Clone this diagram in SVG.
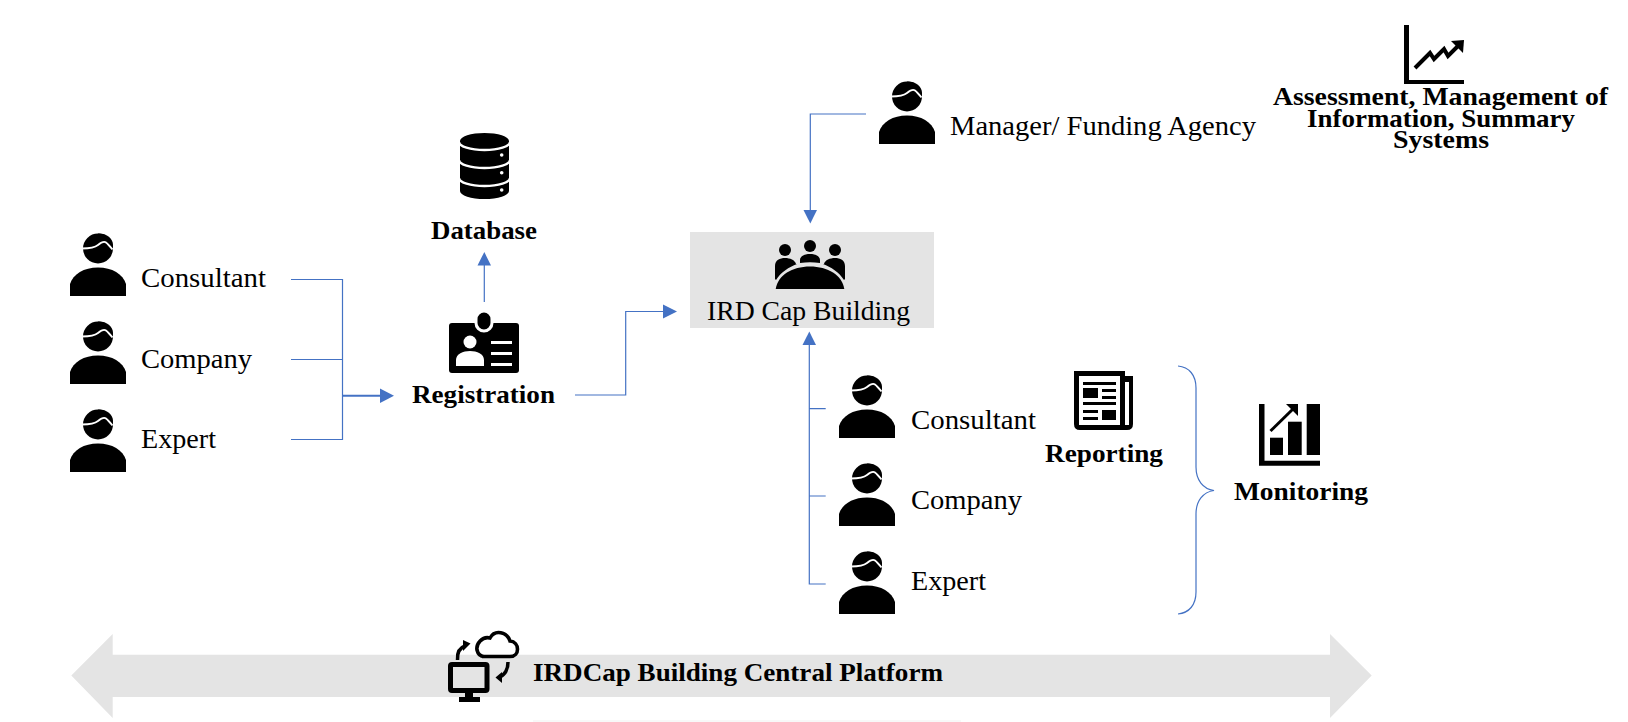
<svg xmlns="http://www.w3.org/2000/svg" width="1628" height="722" viewBox="0 0 1628 722">
<style>
text{font-family:"Liberation Serif","Times New Roman",serif;font-size:27px;fill:#000}
.b{font-weight:700;font-size:26px}
.c{fill:none;stroke:#4472C4;stroke-width:1.2}
.h{fill:#4472C4;stroke:none}
.w{fill:none;stroke:#fff}
.k{fill:#000}
.g{fill:#E4E4E4}
</style>
<defs>
<symbol id="person" width="56" height="63" viewBox="0 0 56 63" overflow="visible">
<circle cx="28" cy="15.500" r="15"/>
<path d="M28 0.500C36 0 43 5 43 12V17L32 8Z"/>
<path d="M12 15.500C20 15.500 25 14.500 28 12C31 9.500 34 8 36 9.500C38 11 40 13.500 42.500 16.500" fill="none" stroke="#fff" stroke-width="1.800"/>
<path d="M0 63V51C3 41 14 34.500 28 34.500C42 34.500 53 41 56 51V63Z"/>
</symbol>
</defs>
<g id="connectors">
<path class="c" d="M291 279.500H342.500V439.500H291M291 359.500H342.500"/>
<path class="c" style="stroke-width:2" d="M342.500 395.700H381"/>
<path class="h" d="M394 395.700L380 388.500V403Z"/>
<path class="c" d="M484.300 302V264"/>
<path class="h" d="M484.300 252L477.500 265.500H491Z"/>
<path class="c" d="M575 395H625.700V311.500H664"/>
<path class="h" d="M677 311.500L663 304.500V318.500Z"/>
<path class="c" d="M866 114H810.300V211"/>
<path class="h" d="M810.300 223.500L803.500 210H817Z"/>
<path class="c" d="M809.300 344V584H825.700M809.300 408.700H825.700M809.300 496H825.700"/>
<path class="h" d="M809.300 331.500L802.500 345H816Z"/>
<path class="c" d="M1178 366C1189 367 1196 375 1196 388V467C1196 480 1203 489 1214 490.500C1203 492 1196 501 1196 514V592C1196 605 1189 613 1178 614"/>
</g>
<g id="platform">
<path class="g" d="M71.300 675.500L112.700 634V654.700H1330V634L1371.700 675.500L1330 718V697H112.700V718Z"/>
<rect x="533" y="720.500" width="428" height="1" fill="#f2f2f2"/>
<text class="b" x="533" y="681" textLength="410" lengthAdjust="spacingAndGlyphs">IRDCap Building Central Platform</text>
<g id="platform-icon">
<rect x="450.500" y="664.500" width="36.500" height="26" rx="1.500" fill="none" stroke="#000" stroke-width="5"/>
<rect x="465" y="692" width="8" height="6"/><rect x="459" y="697" width="21" height="5"/>
<path d="M482 656.500H510C520 656.500 520 642 510 641C507 632 495 629 490 638C482 636 476 644 477 650C478 654 480 656.500 484 656.500" fill="none" stroke="#000" stroke-width="3.600"/>
<path d="M457.500 660C457 653 459 648 465 646" fill="none" stroke="#000" stroke-width="3.500"/><path class="k" d="M470.500 643.500L463 640V651Z"/>
<path d="M508 662C508 669 505 675 500 676.500" fill="none" stroke="#000" stroke-width="3.500"/><path class="k" d="M495.500 677.500L502 672V683Z"/>
</g>
</g>
<g id="consultant-left"><use href="#person" x="70" y="233"/><text x="141" y="287" textLength="125" lengthAdjust="spacingAndGlyphs">Consultant</text></g>
<g id="company-left"><use href="#person" x="70" y="321"/><text x="141" y="367.500" textLength="111" lengthAdjust="spacingAndGlyphs">Company</text></g>
<g id="expert-left"><use href="#person" x="70" y="409"/><text x="141" y="447.500" textLength="75" lengthAdjust="spacingAndGlyphs">Expert</text></g>
<g id="database">
<path class="k" d="M460 141A24.500 8 0 0 1 509 141V191A24.500 8 0 0 1 460 191Z"/>
<path class="w" stroke-width="2.500" d="M459 142A25.500 8 0 0 0 510 142M459 160A25.500 8 0 0 0 510 160M459 178A25.500 8 0 0 0 510 178"/>
<circle cx="501.700" cy="155" r="1.800" fill="#fff"/><circle cx="501.700" cy="172.700" r="1.800" fill="#fff"/><circle cx="501.700" cy="190" r="1.800" fill="#fff"/>
<text class="b" x="431" y="239" textLength="106" lengthAdjust="spacingAndGlyphs">Database</text>
</g>
<g id="registration">
<rect x="449" y="323" width="70" height="50" rx="3"/>
<rect x="476" y="311" width="16" height="20" rx="8" fill="#000" stroke="#fff" stroke-width="3"/>
<circle cx="470" cy="342" r="6.500" fill="#fff"/>
<path d="M456 366V360C456 354 463 351 470 351C477 351 484 354 484 360V366Z" fill="#fff"/>
<path d="M491 342.500H512M491 353.500H512M491 364.500H512" stroke="#fff" stroke-width="3"/>
<text class="b" x="412" y="403" textLength="143" lengthAdjust="spacingAndGlyphs">Registration</text>
</g>
<g id="ird-cap-building">
<rect class="g" x="690" y="232" width="244" height="96"/>
<circle cx="785" cy="250" r="6"/><circle cx="810" cy="246" r="6"/><circle cx="835" cy="250" r="6"/>
<path d="M775 279V266C775 260 780 258 785 258C790 258 795 260 796 264L797 264C789 267 781 272 776 280Z"/>
<path d="M845 279V266C845 260 840 258 835 258C830 258 825 260 824 264L823 264C831 267 839 272 844 280Z"/>
<path d="M800 263V260C800 256 805 254 810 254C815 254 820 256 820 260V263C813 262 807 262 800 263Z"/>
<path d="M775.700 289C778 275 792 266.500 810 266.500C828 266.500 842 275 844.300 289Z"/>
<text x="707" y="320" textLength="203" lengthAdjust="spacingAndGlyphs">IRD Cap Building</text>
</g>
<g id="manager"><use href="#person" x="879" y="81"/><text x="950" y="135" textLength="306" lengthAdjust="spacingAndGlyphs">Manager/ Funding Agency</text></g>
<g id="assessment">
<path class="k" d="M1404 25H1409V80H1464V84H1404Z"/>
<path d="M1415 68L1430 53L1434 59L1444 49L1448 56L1461 43" fill="none" stroke="#000" stroke-width="4"/>
<path class="k" d="M1464 40L1451 41L1463 53Z"/>
<text class="b" x="1273" y="105" textLength="335" lengthAdjust="spacingAndGlyphs">Assessment, Management of</text>
<text class="b" x="1307" y="127" textLength="268" lengthAdjust="spacingAndGlyphs">Information, Summary</text>
<text class="b" x="1393" y="148" textLength="96" lengthAdjust="spacingAndGlyphs">Systems</text>
</g>
<g id="consultant-right"><use href="#person" x="839" y="375"/><text x="911" y="429" textLength="125" lengthAdjust="spacingAndGlyphs">Consultant</text></g>
<g id="company-right"><use href="#person" x="839" y="463"/><text x="911" y="509" textLength="111" lengthAdjust="spacingAndGlyphs">Company</text></g>
<g id="expert-right"><use href="#person" x="839" y="551"/><text x="911" y="590" textLength="75" lengthAdjust="spacingAndGlyphs">Expert</text></g>
<g id="reporting">
<path class="k" d="M1074 371H1125V376H1133V424Q1133 430 1127 430H1080Q1074 430 1074 424Z"/>
<rect x="1079" y="376" width="41" height="49" fill="#fff"/>
<rect x="1125" y="382" width="4" height="43" fill="#fff"/>
<path d="M1083 382H1116V385H1083ZM1083 388H1098V398H1083ZM1102 389H1116V392H1102ZM1102 396H1116V399H1102ZM1083 402H1116V405H1083ZM1083 410H1098V413H1083ZM1083 417H1098V420H1083ZM1102 410H1116V420H1102Z"/>
<text class="b" x="1045" y="462" textLength="118" lengthAdjust="spacingAndGlyphs">Reporting</text>
</g>
<g id="monitoring">
<path class="k" d="M1259 404H1264.500V460.700H1320V465.700H1259Z"/>
<rect x="1270" y="437.700" width="13" height="17.300"/><rect x="1288" y="421.700" width="13.700" height="33.300"/><rect x="1306.700" y="404" width="13.300" height="51"/>
<path d="M1270.500 431L1294 408" fill="none" stroke="#000" stroke-width="3"/>
<path class="k" d="M1298 404H1286L1298 416Z"/>
<text class="b" x="1234" y="500" textLength="134" lengthAdjust="spacingAndGlyphs">Monitoring</text>
</g>
</svg>
